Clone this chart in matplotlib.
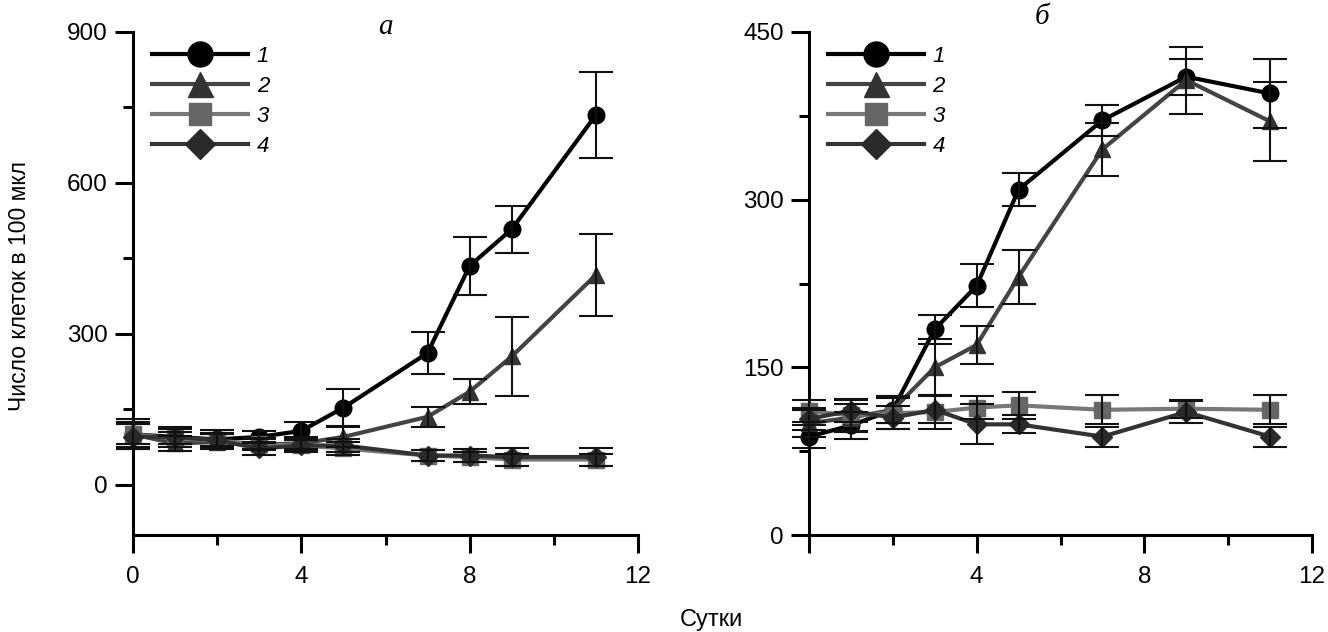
import matplotlib.pyplot as plt
from matplotlib.ticker import MultipleLocator

plt.rcParams["font.family"] = ["Liberation Sans", "DejaVu Sans"]

# panel a
DAYS_A = [0, 1, 2, 3, 4, 5, 7, 8, 9, 11]
A_MEANS = [
    [100, 95, 90, 95, 107, 153, 262, 435, 508, 735],
    [100, 82, 85, 80, 82, 95, 135, 185, 255, 417],
    [100, 92, 88, 80, 78, 72, 58, 55, 50, 50],
    [95, 95, 88, 72, 78, 78, 58, 58, 55, 55],
]
A_ERRS = [
    [30, 20, 18, 12, 18, 37, 42, 58, 47, 86],
    [25, 15, 15, 12, 12, 20, 20, 25, 78, 81],
    [20, 12, 12, 10, 10, 12, 10, 10, 12, 12],
    [25, 15, 15, 12, 12, 12, 10, 12, 18, 18],
]

# panel b
DAYS_B = [0, 1, 2, 3, 4, 5, 7, 9, 11]
B_MEANS = [
    [88, 98, 112, 184, 223, 309, 371, 410, 395],
    [100, 105, 112, 150, 170, 231, 345, 407, 370],
    [111, 107, 109, 110, 114, 116, 112, 113, 112],
    [104, 111, 105, 112, 99, 99, 88, 110, 88],
]
B_ERRS = [
    [10, 12, 12, 13, 19, 15, 14, 16, 31],
    [12, 12, 12, 25, 17, 24, 24, 30, 35],
    [10, 15, 14, 15, 10, 12, 13, 8, 13],
    [10, 10, 10, 12, 18, 8, 9, 10, 9],
]

LABELS = ["1", "2", "3", "4"]
LINE_COLORS = ["#000000", "#444444", "#787878", "#333333"]
FACE_COLORS = ["#000000", "#333333", "#666666", "#2a2a2a"]
MARKERS = ["o", "^", "s", "D"]
MARKER_SIZES = [12, 12, 11, 10]


def draw_panel(ax, days, means, errs, ylim, major_y, minor_y, xlabels):
    for i in range(len(means)):
        ax.plot(days, means[i], color=LINE_COLORS[i], lw=3, marker=MARKERS[i],
                ms=MARKER_SIZES[i], mfc=FACE_COLORS[i], mec=FACE_COLORS[i],
                label=LABELS[i], clip_on=False, zorder=2 + i)
        ax.errorbar(days, means[i], yerr=errs[i], fmt="none", ecolor="#111111",
                    elinewidth=1.5, capsize=12, capthick=1.5, clip_on=False, zorder=6)
    ax.set_xlim(0, 12)
    ax.set_ylim(*ylim)
    ax.xaxis.set_major_locator(MultipleLocator(4))
    ax.xaxis.set_minor_locator(MultipleLocator(2))
    ax.yaxis.set_major_locator(MultipleLocator(major_y))
    ax.yaxis.set_minor_locator(MultipleLocator(minor_y))
    ax.set_xticks([0, 4, 8, 12])
    ax.set_xticklabels(xlabels)
    for side in ["top", "right"]:
        ax.spines[side].set_visible(False)
    for side in ["left", "bottom"]:
        ax.spines[side].set_linewidth(2.2)
    ax.tick_params(which="major", length=13, width=2.2, labelsize=17.5, pad=5)
    ax.tick_params(which="minor", length=7, width=2.2)
    ax.tick_params(axis="x", which="major", pad=9)
    leg = ax.legend(loc="upper left", bbox_to_anchor=(0.038, 0.972), frameon=False,
                    fontsize=16, handlelength=4.3, handletextpad=0.4, labelspacing=0.4,
                    markerscale=1.5, borderpad=0, borderaxespad=0)
    for txt in leg.get_texts():
        txt.set_fontstyle("italic")


fig = plt.figure(figsize=(13.28, 6.32), dpi=100)
ax_a = fig.add_axes([133 / 1328, 97 / 632, 505 / 1328, 503 / 632])
ax_b = fig.add_axes([809 / 1328, 97 / 632, 503 / 1328, 503 / 632])

draw_panel(ax_a, DAYS_A, A_MEANS, A_ERRS, (-100, 900), 300, 150, ["0", "4", "8", "12"])
ax_a.set_yticks([0, 300, 600, 900])
draw_panel(ax_b, DAYS_B, B_MEANS, B_ERRS, (0, 450), 150, 75, ["", "4", "8", "12"])

fig.text(385 / 1328, 1 - 27 / 632, "a", family="Liberation Serif", style="italic",
         fontsize=21, ha="center", va="center")
fig.text(1042 / 1328, 1 - 17 / 632, "б", family="Liberation Serif", style="italic",
         fontsize=21, ha="center", va="center")
fig.text(20 / 1328, 1 - 286 / 632, "Число клеток в 100 мкл", rotation=90,
         fontsize=16.5, ha="center", va="center")
fig.text(711 / 1328, 1 - 620 / 632, "Сутки", fontsize=17, ha="center", va="center")

fig.savefig("out.png", dpi=100)
